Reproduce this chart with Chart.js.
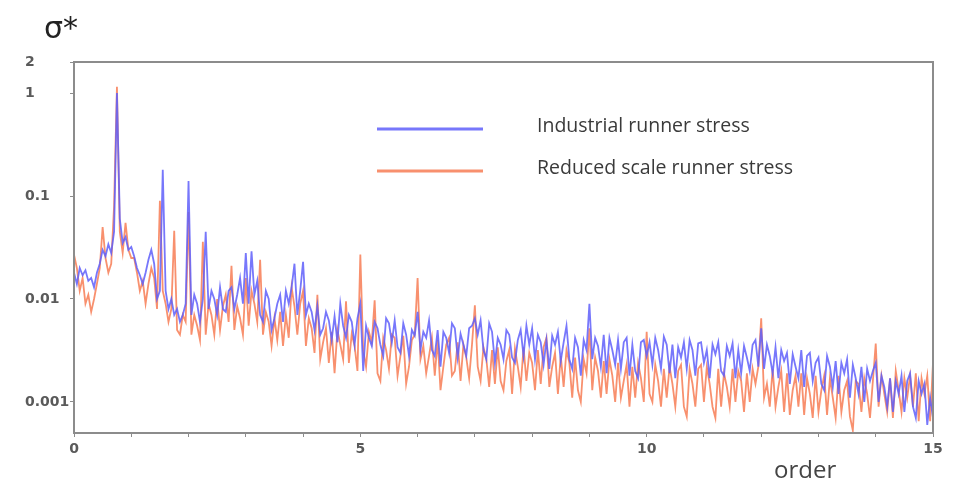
<!DOCTYPE html>
<html>
<head>
<meta charset="utf-8">
<script src="https://cdn.jsdelivr.net/npm/chart.js@4/dist/chart.umd.min.js"></script>
<style>
  html, body { margin: 0; padding: 0; background: #fff; }
  #wrap { width: 959px; height: 482px; }
</style>
</head>
<body>
<div id="wrap"><canvas id="spectrum" width="959" height="482"></canvas></div>
<script>
// sampling grid of the spectra (order axis), one value every 0.05
const orderStep = 0.05;
const orders = Array.from({ length: 301 }, (_, i) => +(i * orderStep).toFixed(2));

// one row per unit of order
const industrial = [
  0.018, 0.014, 0.02, 0.017, 0.019, 0.015, 0.016, 0.013, 0.018, 0.022, 0.03, 0.026, 0.034, 0.028, 0.045, 1.0, 0.06, 0.035, 0.04, 0.03,
  0.032, 0.026, 0.02, 0.017, 0.014, 0.018, 0.024, 0.03, 0.022, 0.01, 0.012, 0.18, 0.012, 0.008, 0.01, 0.007, 0.008, 0.006, 0.007, 0.009,
  0.14, 0.007, 0.011, 0.009, 0.006, 0.01, 0.045, 0.008, 0.012, 0.01, 0.007, 0.013, 0.008, 0.0075, 0.012, 0.013, 0.008, 0.011, 0.016, 0.009,
  0.028, 0.009, 0.029, 0.011, 0.015, 0.007, 0.006, 0.012, 0.01, 0.005, 0.0065, 0.009, 0.011, 0.006, 0.012, 0.009, 0.013, 0.022, 0.007, 0.012,
  0.023, 0.007, 0.009, 0.0075, 0.005, 0.0085, 0.0045, 0.0052, 0.0075, 0.0062, 0.004, 0.0068, 0.0038, 0.009, 0.0055, 0.0042, 0.007, 0.006, 0.0036, 0.0065,
  0.009, 0.002, 0.0055, 0.0042, 0.0035, 0.006, 0.0052, 0.0036, 0.0028, 0.0065, 0.0058, 0.0038, 0.0062, 0.0034, 0.003, 0.0058, 0.0045, 0.0028, 0.005, 0.0044,
  0.0075, 0.0032, 0.0048, 0.0042, 0.0062, 0.0032, 0.0028, 0.005, 0.0022, 0.0048, 0.0042, 0.003, 0.0058, 0.0052, 0.0027, 0.0046, 0.0036, 0.0028, 0.0052, 0.0055,
  0.0065, 0.0045, 0.0062, 0.0032, 0.0026, 0.0058, 0.0048, 0.0024, 0.0042, 0.0036, 0.0026, 0.005, 0.0045, 0.0027, 0.0024, 0.004, 0.005, 0.0028, 0.0055, 0.0036,
  0.0052, 0.0026, 0.0045, 0.0038, 0.0023, 0.004, 0.0021, 0.0044, 0.0036, 0.0048, 0.0025, 0.0038, 0.0055, 0.0026, 0.0021, 0.0042, 0.0034, 0.0018, 0.004, 0.0032,
  0.009, 0.0026, 0.0042, 0.0035, 0.0022, 0.0045, 0.0019, 0.0042, 0.0032, 0.0023, 0.004, 0.0021, 0.0038, 0.0042, 0.0018, 0.0036, 0.002, 0.0017, 0.0038, 0.004,
  0.0028, 0.0038, 0.0023, 0.0042, 0.0032, 0.0021, 0.0043, 0.0036, 0.0019, 0.0036, 0.0017, 0.0034, 0.0027, 0.0038, 0.0021, 0.004, 0.0032, 0.0018, 0.0037, 0.0038,
  0.0024, 0.0032, 0.0017, 0.0036, 0.0029, 0.0038, 0.002, 0.0018, 0.0035, 0.0028, 0.0037, 0.0017, 0.0032, 0.0019, 0.0035, 0.0027, 0.002, 0.0036, 0.004, 0.0022,
  0.0052, 0.0021, 0.0036, 0.0028, 0.0019, 0.0034, 0.0017, 0.0032, 0.0025, 0.003, 0.0015, 0.0029, 0.0022, 0.0017, 0.0032, 0.0014, 0.0028, 0.003, 0.0016, 0.0024,
  0.0027, 0.0015, 0.0013, 0.0028, 0.0022, 0.0014, 0.0025, 0.0012, 0.0024, 0.0019, 0.0026, 0.0011, 0.0023, 0.0017, 0.0012, 0.0022, 0.001, 0.0021, 0.0016, 0.002,
  0.0024, 0.001, 0.0018, 0.0014, 0.0009, 0.0017, 0.0008, 0.0016, 0.0012, 0.0018, 0.0008, 0.0016, 0.0019, 0.0009, 0.0007, 0.0016, 0.0012, 0.0015, 0.0006, 0.0011,
  0.0007
];

const reduced = [
  0.027, 0.02, 0.012, 0.016, 0.009, 0.011, 0.0075, 0.01, 0.014, 0.02, 0.05, 0.025, 0.018, 0.022, 0.08, 1.15, 0.045, 0.028, 0.055, 0.03,
  0.025, 0.025, 0.018, 0.012, 0.015, 0.009, 0.014, 0.02, 0.016, 0.008, 0.09, 0.012, 0.009, 0.006, 0.008, 0.046, 0.005, 0.0045, 0.007, 0.006,
  0.07, 0.0045, 0.007, 0.0055, 0.004, 0.036, 0.0045, 0.009, 0.007, 0.0045, 0.01, 0.005, 0.0085, 0.011, 0.006, 0.021, 0.005, 0.0085, 0.0065, 0.0045,
  0.016, 0.0055, 0.012, 0.009, 0.006, 0.024, 0.0045, 0.0075, 0.006, 0.0035, 0.0065, 0.004, 0.0075, 0.0035, 0.007, 0.0042, 0.013, 0.0085, 0.0045, 0.009,
  0.012, 0.0035, 0.0065, 0.0052, 0.003, 0.011, 0.0026, 0.0038, 0.0052, 0.0024, 0.0048, 0.0019, 0.005, 0.0036, 0.0026, 0.0095, 0.0024, 0.0046, 0.0035, 0.002,
  0.027, 0.0032, 0.0022, 0.0048, 0.0038, 0.0097, 0.0019, 0.0016, 0.0042, 0.0032, 0.0021, 0.0045, 0.0042, 0.0018, 0.0028, 0.0044, 0.0015, 0.0022, 0.004, 0.0045,
  0.016, 0.0026, 0.0035, 0.0019, 0.0028, 0.0042, 0.0018, 0.004, 0.0013, 0.0022, 0.0036, 0.0042, 0.0018, 0.002, 0.0038, 0.0016, 0.0036, 0.0027, 0.0017, 0.0036,
  0.0087, 0.0022, 0.0016, 0.0034, 0.0026, 0.0014, 0.0032, 0.0015, 0.0034, 0.0016, 0.0013, 0.0025, 0.0032, 0.0012, 0.0033, 0.0022, 0.0014, 0.0034, 0.0016, 0.003,
  0.0024, 0.0013, 0.0032, 0.0015, 0.0034, 0.0042, 0.0014, 0.0022, 0.003, 0.0012, 0.0028, 0.0014, 0.0032, 0.0024, 0.0011, 0.0027, 0.0013, 0.001, 0.0026, 0.0019,
  0.0052, 0.0013, 0.0027, 0.002, 0.0011, 0.0025, 0.0012, 0.0026, 0.0018, 0.001, 0.0024, 0.0011, 0.0016, 0.0023, 0.0009, 0.0022, 0.0011, 0.0024, 0.0017, 0.001,
  0.0048, 0.0012, 0.001, 0.0023, 0.0016, 0.0009, 0.0021, 0.0011, 0.0022, 0.0015, 0.0009, 0.002, 0.0023, 0.0009, 0.00072, 0.0021, 0.0015, 0.0009, 0.0021, 0.0023,
  0.001, 0.0022, 0.0015, 0.0009, 0.0007, 0.0021, 0.0009, 0.0019, 0.0014, 0.0009, 0.0021, 0.001, 0.002, 0.0016, 0.0008, 0.0019, 0.001, 0.0021, 0.0015, 0.0022,
  0.0065, 0.0011, 0.0015, 0.0009, 0.0021, 0.0009, 0.0014, 0.002, 0.0008, 0.0019, 0.00075, 0.0013, 0.0018, 0.0009, 0.0019, 0.00075, 0.0017, 0.0012, 0.0007, 0.0018,
  0.0008, 0.0013, 0.0018, 0.00075, 0.0017, 0.0011, 0.0007, 0.0018, 0.0008, 0.0013, 0.0016, 0.00072, 0.00053, 0.0016, 0.0015, 0.0008, 0.0017, 0.0012, 0.0007, 0.0016,
  0.0037, 0.0009, 0.0018, 0.0012, 0.0008, 0.0017, 0.0007, 0.002, 0.0013, 0.0008, 0.0017, 0.0011, 0.0018, 0.0009, 0.0019, 0.00065, 0.0017, 0.0012, 0.0018, 0.00065,
  0.0024
];

const seriesNames = ["Industrial runner stress", "Reduced scale runner stress"];
const yTickValues = [0.001, 0.01, 0.1, 1, 2];
const xLabelValues = [0, 5, 10, 15];

const blue = "rgba(95, 95, 250, 0.85)";
const orange = "rgba(247, 125, 85, 0.85)";
const axisGrey = "#8c8c8c";
const tickFont = { family: "DejaVu Sans", size: 14, weight: "bold" };

const toPoints = (vals) => vals.map((v, i) => ({ x: orders[i], y: v }));

// frame, legend and the loose texts (sigma*, order)
const decorations = {
  id: "decorations",
  afterDraw(chart) {
    const { ctx, chartArea: a } = chart;
    ctx.save();
    ctx.strokeStyle = axisGrey;
    ctx.lineWidth = 2;
    ctx.strokeRect(a.left, a.top, a.right - a.left, a.bottom - a.top);

    const rows = [129, 171];
    chart.data.datasets.forEach((ds, i) => {
      ctx.strokeStyle = ds.borderColor;
      ctx.lineWidth = 3;
      ctx.beginPath();
      ctx.moveTo(377, rows[i]);
      ctx.lineTo(483, rows[i]);
      ctx.stroke();
      ctx.fillStyle = "#3a3a3a";
      ctx.font = "19.5px 'Open Sans'";
      ctx.textBaseline = "middle";
      ctx.textAlign = "left";
      ctx.fillText(ds.label, 537, rows[i] - 3);
    });

    ctx.fillStyle = "#222";
    ctx.font = "30px 'DejaVu Sans'";
    ctx.textBaseline = "alphabetic";
    ctx.fillText("σ*", 44, 38);

    ctx.fillStyle = "#444";
    ctx.font = "24px 'Open Sans'";
    ctx.fillText("order", 774, 478);
    ctx.restore();
  }
};

new Chart(document.getElementById("spectrum"), {
  type: "line",
  data: {
    datasets: [
      { label: seriesNames[0], data: toPoints(industrial), borderColor: blue, borderWidth: 1.8 },
      { label: seriesNames[1], data: toPoints(reduced), borderColor: orange, borderWidth: 1.8 }
    ]
  },
  options: {
    responsive: false,
    animation: false,
    layout: { padding: { left: 25, top: 62, right: 26, bottom: 0 } },
    elements: { point: { radius: 0 }, line: { tension: 0 } },
    plugins: { legend: { display: false }, tooltip: { enabled: false } },
    scales: {
      x: {
        type: "linear",
        min: 0,
        max: 15,
        afterFit: (s) => { s.height = 49; },
        afterBuildTicks: (s) => { s.ticks = orders.filter((o) => Number.isInteger(o)).map((v) => ({ value: v })); },
        ticks: {
          color: "#5a5a5a",
          font: tickFont,
          padding: 4,
          maxRotation: 0,
          autoSkip: false,
          callback: (v) => (xLabelValues.includes(v) ? String(v) : "")
        },
        grid: { drawOnChartArea: false, color: axisGrey, tickLength: 4 },
        border: { display: false }
      },
      y: {
        type: "logarithmic",
        min: 0.0005,
        max: 2,
        afterFit: (s) => { s.width = 49; },
        afterBuildTicks: (s) => { s.ticks = yTickValues.map((v) => ({ value: v })); },
        ticks: {
          color: "#5a5a5a",
          font: tickFont,
          crossAlign: "far",
          autoSkip: false,
          callback: (v) => String(v)
        },
        grid: { drawOnChartArea: false, color: axisGrey, tickLength: 4 },
        border: { display: false }
      }
    }
  },
  plugins: [decorations]
});
</script>
</body>
</html>
